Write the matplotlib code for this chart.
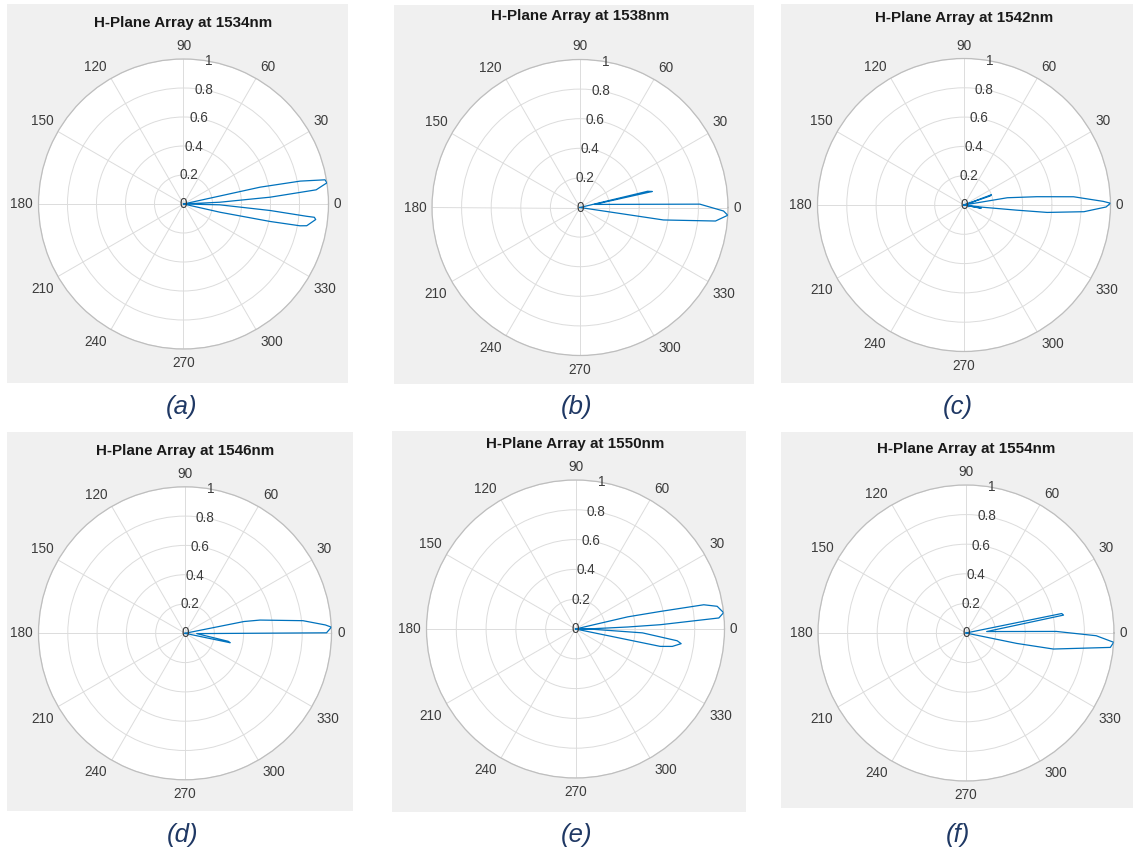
import numpy as np
import matplotlib
matplotlib.use("Agg")
import matplotlib.pyplot as plt
from matplotlib.patches import Rectangle
import matplotlib.transforms as mtransforms

plt.rcParams['font.family'] = ['Liberation Sans', 'DejaVu Sans']

W, H = 1134, 850

# Wavelengths and panel captions
wavelengths = [1534, 1538, 1542, 1546, 1550, 1554]
captions = ['(a)', '(b)', '(c)', '(d)', '(e)', '(f)']

# Normalised H-plane array patterns: angle (deg) and magnitude of the outline
theta_a = [13.5, 12.4, 11.1, 9.7, 8.4, 6.1, 4.5, 2.8, 0.0, -1.3, -4.3, -5.7, -5.8, -6.7, -10.0, -10.6, -11.4, -12.7, -13.5]
r_a = [0.0, 0.54, 0.82, 0.99, 1.0, 0.92, 0.60, 0.25, 0.0, 0.25, 0.60, 0.854, 0.907, 0.918, 0.863, 0.817, 0.61, 0.26, 0.0]

theta_b = [15.0, 13.5, 12.5, 12.0, 1.6, -1.4, -3.0, -5.7, -8.5, -9.0]
r_b = [0.0, 0.47, 0.50, 0.10, 0.81, 0.97, 1.0, 0.92, 0.57, 0.0]

theta_c = [24.0, 20.5, 19.0, 15.0, 9.5, 6.5, 4.3, 1.5, 0.7, -0.8, -3.2, -5.1, -5.6, -6.8, -8.0, -10.0, -11.0, -13.0]
r_c = [0.0, 0.20, 0.19, 0.0, 0.30, 0.50, 0.75, 0.95, 1.0, 0.97, 0.82, 0.57, 0.36, 0.13, 0.0, 0.12, 0.11, 0.0]

theta_d = [13.0, 11.3, 10.0, 6.1, 3.4, 2.4, 0.2, -1.5, -10.5, -11.8, -12.5]
r_d = [0.0, 0.41, 0.52, 0.81, 0.96, 1.0, 0.966, 0.08, 0.30, 0.315, 0.0]

theta_e = [14.0, 13.1, 11.7, 10.7, 9.1, 6.3, 4.4, 2.9, 2.2, 1.0, 0.0, -1.0, -3.3, -6.6, -7.9, -10.2, -11.6, -12.0]
r_e = [0.0, 0.36, 0.58, 0.876, 0.963, 1.0, 0.965, 0.57, 0.35, 0.12, 0.0, 0.12, 0.45, 0.687, 0.716, 0.66, 0.58, 0.0]

theta_f = [16.0, 11.5, 10.4, 4.0, 1.0, -1.2, -3.6, -5.7, -10.4, -11.6, -12.5]
r_f = [0.0, 0.66, 0.67, 0.14, 0.61, 0.88, 1.0, 0.98, 0.60, 0.35, 0.0]

patterns = [(theta_a, r_a), (theta_b, r_b), (theta_c, r_c),
            (theta_d, r_d), (theta_e, r_e), (theta_f, r_f)]

theta_ticks = list(range(0, 360, 30))
r_ticks = [0, 0.2, 0.4, 0.6, 0.8, 1.0]
r_tick_labels = ['0', '0.2', '0.4', '0.6', '0.8', '1']

# Panel layout in pixels: grey box, polar centre, radius, title y, caption position
panels = [
    dict(box=(7, 4, 348, 383), c=(183.5, 204.0), R=145.0, ty=23, cap=(182, 407)),
    dict(box=(394, 5, 754, 384), c=(580.0, 207.5), R=148.0, ty=16, cap=(577, 407)),
    dict(box=(781, 4, 1133, 383), c=(964.0, 205.0), R=146.5, ty=18, cap=(958, 407)),
    dict(box=(7, 432, 353, 811), c=(185.0, 633.3), R=146.5, ty=451, cap=(183, 835)),
    dict(box=(392, 431, 746, 812), c=(575.5, 629.0), R=149.0, ty=444, cap=(577, 835)),
    dict(box=(781, 432, 1133, 808), c=(966.0, 633.0), R=148.0, ty=449, cap=(958, 835)),
]

LINE = '#0072BD'
GRID = '#DCDCDC'
EDGE = '#BEBEBE'
TICK = '#3c3c3c'
CAP = '#1F3864'

fig = plt.figure(figsize=(W / 100, H / 100), dpi=100)
fig.patch.set_facecolor('white')

for p, (th, rr), wl, cap in zip(panels, patterns, wavelengths, captions):
    x0, y0, x1, y1 = p['box']
    fig.patches.append(Rectangle((x0 / W, 1 - y1 / H), (x1 - x0) / W, (y1 - y0) / H,
                                 transform=fig.transFigure, facecolor='#F0F0F0',
                                 edgecolor='none', zorder=-5))
    cx, cy = p['c']
    R = p['R']
    ax = fig.add_axes([(cx - R) / W, 1 - (cy + R) / H, 2 * R / W, 2 * R / H],
                      projection='polar')
    ax.set_facecolor('white')
    ax.set_ylim(0, 1)
    ax.set_thetagrids(theta_ticks, labels=[''] * len(theta_ticks))
    ax.set_rgrids(r_ticks[1:], labels=[''] * (len(r_ticks) - 1))
    ax.grid(True, color=GRID, linewidth=0.7)
    ax.spines['polar'].set_color(EDGE)
    ax.spines['polar'].set_linewidth(0.9)
    ax.tick_params(length=0)

    ax.plot(np.deg2rad(th), rr, color=LINE, linewidth=0.9, zorder=3)

    # angular labels outside the rim
    for a in theta_ticks:
        c, s = np.cos(np.deg2rad(a)), np.sin(np.deg2rad(a))
        if abs(c) < 0.01:
            ha, dx = 'center', 0
        else:
            ha, dx = ('left', 4.5) if c > 0 else ('right', -4.5)
        if abs(s) < 0.01:
            va, dy = 'center', 0
            dx = 5.5 if c > 0 else -5.5
        else:
            va, dy = ('bottom', 4) if s > 0 else ('top', -5)
            if abs(c) < 0.01:
                dy = 6 if s > 0 else -7
        tr = mtransforms.offset_copy(ax.transData, fig=fig, x=dx, y=dy, units='dots')
        ax.text(np.deg2rad(a), 1.0, str(a), transform=tr, ha=ha, va=va,
                fontsize=9.8, color=TICK, clip_on=False)

    # radial labels along the 80 degree direction
    for rv, lab in zip(r_ticks, r_tick_labels):
        ax.text(np.deg2rad(80), rv, lab, ha='center', va='center',
                fontsize=9.8, color=TICK, zorder=4)

    fig.text(cx / W, 1 - p['ty'] / H, f'H-Plane Array at {wl}nm', ha='center',
             va='center', fontsize=10.9, fontweight='bold', color='#1a1a1a')
    fig.text(p['cap'][0] / W, 1 - p['cap'][1] / H, cap, ha='center', va='center',
             fontsize=18.5, fontstyle='italic', color=CAP)

fig.savefig('out.png', dpi=100, facecolor='white')
